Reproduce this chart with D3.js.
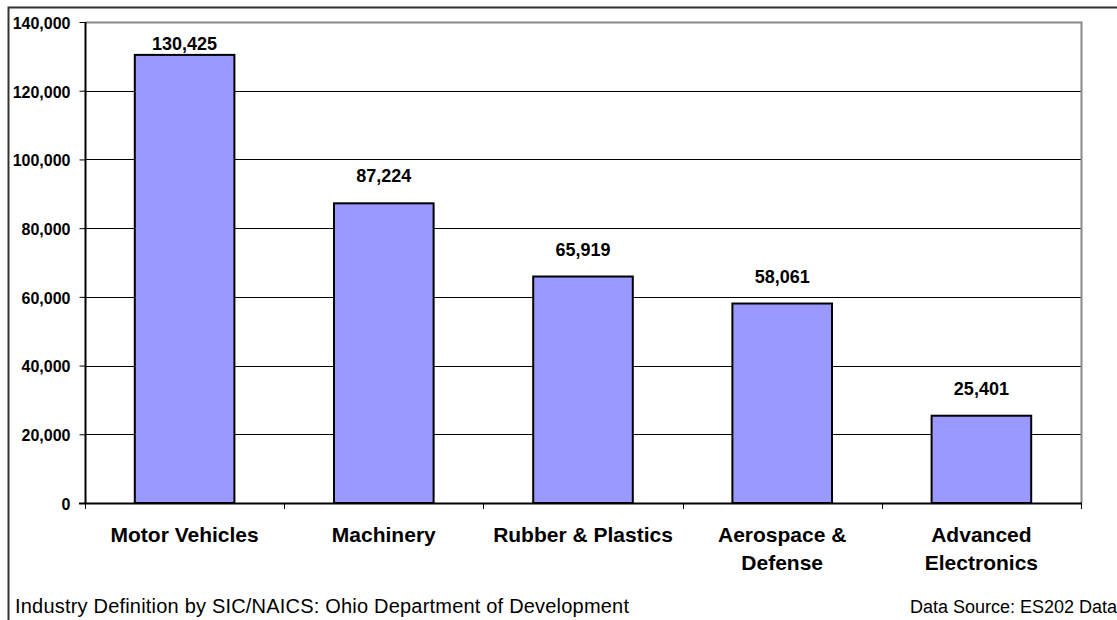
<!DOCTYPE html>
<html>
<head>
<meta charset="utf-8">
<script src="https://cdn.jsdelivr.net/npm/d3@7"></script>
<style>
  html, body { margin: 0; padding: 0; background: #fff; }
  svg { display: block; font-family: Arial, "Liberation Sans", sans-serif; }
</style>
</head>
<body>
<svg id="chart" width="1117" height="620"></svg>
<script>
// Manufacturing employment by industry cluster
const categories = ["Motor Vehicles", "Machinery", "Rubber & Plastics", "Aerospace & Defense", "Advanced Electronics"];
const categoryLines = [["Motor Vehicles"], ["Machinery"], ["Rubber & Plastics"], ["Aerospace &", "Defense"], ["Advanced", "Electronics"]];
const employment = [130425, 87224, 65919, 58061, 25401];
const yTicks = [0, 20000, 40000, 60000, 80000, 100000, 120000, 140000];
const footnoteLeft = "Industry Definition by SIC/NAICS: Ohio Department of Development";
const footnoteRight = "Data Source: ES202 Data";

const FONT = "Arial, 'Liberation Sans', sans-serif";
const svg = d3.select("#chart");
const plot = { left: 85, right: 1081, top: 22, bottom: 503 };

// Outer chart frame (runs past the right and bottom edges)
svg.append("path")
  .attr("d", `M8.5,${640} V7.5 H1130`)
  .attr("fill", "none").attr("stroke", "#333").attr("stroke-width", 2);

const x = d3.scaleBand().domain(categories).range([plot.left, plot.right]).paddingInner(0.5).paddingOuter(0.25);
const xBand = d3.scaleBand().domain(categories).range([plot.left, plot.right]).padding(0);
const y = d3.scaleLinear().domain([0, 140000]).range([plot.bottom, plot.top]);

// Gridlines
svg.append("g").selectAll("line").data(yTicks.filter(t => t > 0 && t < 140000)).join("line")
  .attr("x1", plot.left).attr("x2", plot.right)
  .attr("y1", d => Math.round(y(d)) + 0.5).attr("y2", d => Math.round(y(d)) + 0.5)
  .attr("stroke", "#000").attr("stroke-width", 1);

// Plot area border (top and right)
svg.append("path")
  .attr("d", `M${plot.left},${plot.top + 0.5} H${plot.right + 0.5} V${plot.bottom}`)
  .attr("fill", "none").attr("stroke", "#888").attr("stroke-width", 2);

// Bars
svg.append("g").selectAll("rect").data(employment).join("rect")
  .attr("x", (d, i) => x(categories[i]))
  .attr("width", x.bandwidth())
  .attr("y", d => y(d))
  .attr("height", d => y(0) - y(d))
  .attr("fill", "#9999FF").attr("stroke", "#000").attr("stroke-width", 2);

// Value labels
svg.append("g").selectAll("text").data(employment).join("text")
  .attr("x", (d, i) => x(categories[i]) + x.bandwidth() / 2)
  .attr("y", d => Math.max(y(d) - 21, 50))
  .attr("text-anchor", "middle")
  .attr("font-size", 18).attr("font-weight", "bold").attr("fill", "#000")
  .text(d => d3.format(",")(d));

// Y axis
const yAxis = svg.append("g").attr("transform", `translate(${plot.left + 0.5},0)`)
  .call(d3.axisLeft(y).tickValues(yTicks).tickSize(6).tickPadding(9).tickFormat(d3.format(",")));
yAxis.select(".domain").attr("stroke", "#000").attr("stroke-width", 2).attr("d", `M0,${plot.top}V${plot.bottom + 1}`);
yAxis.selectAll(".tick line").attr("stroke", "#000");
yAxis.selectAll(".tick text")
  .attr("font-size", 16).attr("font-weight", "bold").attr("font-family", FONT)
  .attr("fill", "#000").attr("dy", "0.4em");

// X axis line and category boundary ticks
svg.append("line")
  .attr("x1", plot.left - 6).attr("x2", plot.right + 1)
  .attr("y1", plot.bottom + 0.5).attr("y2", plot.bottom + 0.5)
  .attr("stroke", "#000").attr("stroke-width", 2);
const boundaries = categories.map(c => xBand(c)).concat([plot.right]);
svg.append("g").selectAll("line").data(boundaries).join("line")
  .attr("x1", d => Math.round(d) + 0.5).attr("x2", d => Math.round(d) + 0.5)
  .attr("y1", plot.bottom).attr("y2", plot.bottom + 6)
  .attr("stroke", "#000").attr("stroke-width", 1);

// Category labels
const catG = svg.append("g").selectAll("text").data(categories).join("text")
  .attr("text-anchor", "middle")
  .attr("font-size", 21).attr("font-weight", "bold").attr("fill", "#000");
catG.each(function(c, i) {
  const t = d3.select(this);
  categoryLines[i].forEach((line, j) => {
    t.append("tspan")
      .attr("x", xBand(c) + xBand.bandwidth() / 2)
      .attr("y", 542 + j * 28)
      .text(line);
  });
});

// Footnotes
svg.append("text").attr("x", 15).attr("y", 613)
  .attr("font-size", 20).attr("letter-spacing", 0.2).attr("fill", "#000").text(footnoteLeft);
svg.append("text").attr("x", 910).attr("y", 613)
  .attr("font-size", 18).attr("fill", "#000").text(footnoteRight);
</script>
</body>
</html>
